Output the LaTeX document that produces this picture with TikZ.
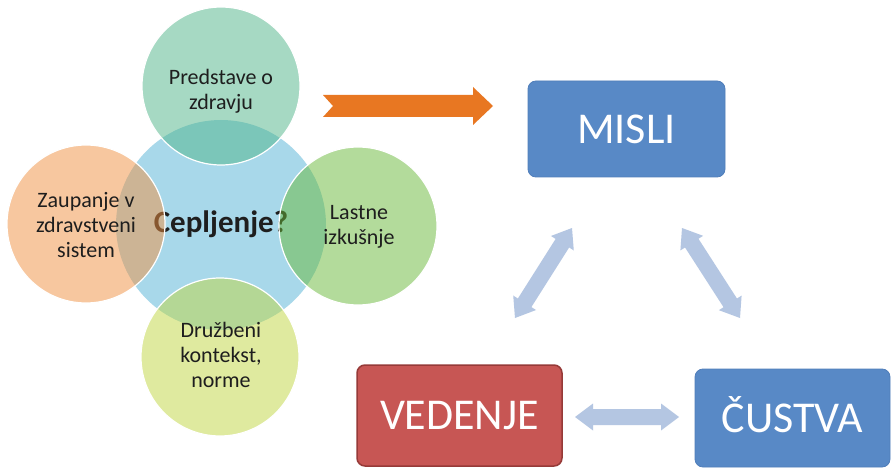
\documentclass[tikz,border=0pt]{standalone}
\usepackage{fontspec}
\setmainfont{Carlito}
\usetikzlibrary{calc}
\definecolor{cblue}{RGB}{168,216,234}
\definecolor{ctop}{RGB}{79,181,137}
\definecolor{cright}{RGB}{105,185,57}
\definecolor{cbottom}{RGB}{193,215,65}
\definecolor{cleft}{RGB}{241,145,65}
\definecolor{boxblue}{RGB}{88,137,198}
\definecolor{boxblueline}{RGB}{80,126,186}
\definecolor{boxred}{RGB}{199,86,84}
\definecolor{boxredline}{RGB}{150,58,56}
\definecolor{orangearr}{RGB}{232,119,34}
\definecolor{lightarr}{RGB}{180,198,226}
\definecolor{txt}{RGB}{30,30,30}
\newcommand{\dblarr}[2]{%
  \fill[lightarr] (#1)
    -- ($(#1)!18pt!(#2)!13.5pt!90:(#2)$)
    -- ($(#1)!18pt!(#2)!8pt!90:(#2)$)
    -- ($(#2)!18pt!(#1)!8pt!-90:(#1)$)
    -- ($(#2)!18pt!(#1)!13.5pt!-90:(#1)$)
    -- (#2)
    -- ($(#2)!18pt!(#1)!13.5pt!90:(#1)$)
    -- ($(#2)!18pt!(#1)!8pt!90:(#1)$)
    -- ($(#1)!18pt!(#2)!8pt!-90:(#2)$)
    -- ($(#1)!18pt!(#2)!13.5pt!-90:(#2)$)
    -- cycle;}
\begin{document}
\begin{tikzpicture}[x=1pt,y=-1pt,
  outer/.style={circle, minimum size=158pt, inner sep=0pt, fill opacity=0.5,
    draw=white, draw opacity=1, line width=1.2pt},
  ctext/.style={text=txt, font=\fontsize{22}{25}\selectfont, align=center, inner sep=0pt},
  bigbox/.style={rounded corners=8pt, inner sep=0pt, text=white,
    font=\fontsize{44}{50}\selectfont, text height=28.3pt, text depth=0pt}]
\fill[white] (0,0) rectangle (892,468);
\useasboundingbox (0,0) rectangle (892,468);
% centre circle
\node[circle, minimum size=210pt, inner sep=0pt, fill=cblue] (hub) at (221,225) {};
\node[anchor=base, inner sep=0pt, text=txt, font=\fontsize{31}{36}\selectfont\bfseries] (hubtxt) at (221,232) {Cepljenje?};
% outer circles
\node[outer, fill=ctop] (top) at (221,86) {};
\node[outer, fill=cleft] (left) at (86,224) {};
\node[outer, fill=cright] (right) at (358,226) {};
\node[outer, fill=cbottom] (bottom) at (220,357) {};
\node[ctext] (toptxt) at (221,91) {Predstave o\\zdravju};
\node[ctext] (lefttxt) at (86,225) {Zaupanje v\\zdravstveni\\sistem};
\node[ctext] (righttxt) at (359,227) {Lastne\\izkušnje};
\node[ctext] (bottomtxt) at (221,355) {Družbeni\\kontekst,\\norme};
% orange arrow
\coordinate (oa) at (323,106);
\fill[orangearr] (oa) ++(0,-11) -- ++(10,11) -- ++(-10,11) -- (473,117) -- (473,125)
  -- (493,106) -- (473,87) -- (473,95) -- cycle;
% boxes
\node[bigbox, fill=boxblue, draw=boxblueline, line width=0.8pt, minimum width=197pt, minimum height=96pt] (misli) at (626.5,129) {MISLI};
\node[bigbox, fill=boxred, draw=boxredline, line width=1.5pt, minimum width=205pt, minimum height=101pt] (vedenje) at (459.5,415.5) {VEDENJE};
\node[bigbox, fill=boxblue, draw=boxblueline, line width=0.8pt, minimum width=195pt, minimum height=98pt] (custva) at (792.5,418) {ČUSTVA};
% double arrows
\coordinate (hA) at (575,417);
\coordinate (hB) at (679,417);
\coordinate (lA) at (515,318);
\coordinate (lB) at (572,228);
\coordinate (rA) at (682,228);
\coordinate (rB) at (740,318);
\dblarr{hA}{hB}
\dblarr{lA}{lB}
\dblarr{rA}{rB}
\end{tikzpicture}
\end{document}
